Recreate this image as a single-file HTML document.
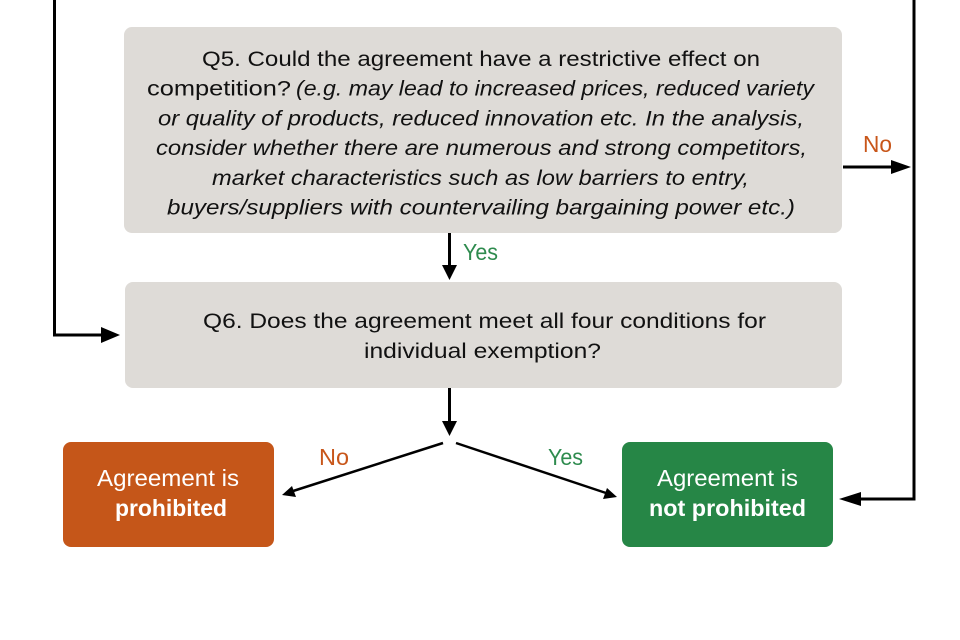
<!DOCTYPE html>
<html><head><meta charset="utf-8"><style>
html,body{margin:0;padding:0;background:#fff;}
svg{display:block;}
text{font-family:"Liberation Sans",sans-serif;}
</style></head><body>
<svg width="960" height="640" viewBox="0 0 960 640" xmlns="http://www.w3.org/2000/svg">
<rect width="960" height="640" fill="#fff"/>
<!-- boxes -->
<rect x="124" y="27" width="718" height="206" rx="8" fill="#dedbd7"/>
<rect x="125" y="282" width="717" height="106" rx="8" fill="#dedbd7"/>
<rect x="63" y="442" width="211" height="105" rx="8" fill="#c55619"/>
<rect x="622" y="442" width="211" height="105" rx="8" fill="#268646"/>

<!-- connectors -->
<g stroke="#000" stroke-width="3" fill="none">
<polyline points="54.5,0 54.5,335 103,335"/>
<polyline points="914,0 914,499 859,499"/>
<line x1="843" y1="167" x2="893" y2="167"/>
<line x1="449.5" y1="233" x2="449.5" y2="266"/>
<line x1="449.5" y1="388" x2="449.5" y2="422"/>
</g>
<g stroke="#000" stroke-width="2.5" fill="none">
<line x1="443" y1="443" x2="290" y2="492"/>
<line x1="456" y1="443" x2="609" y2="494"/>
</g>
<g fill="#000">
<polygon points="120,335 101,327 101,343"/>
<polygon points="839,499 861,492 861,506"/>
<polygon points="911,167 891,160 891,174"/>
<polygon points="449.5,280 442,265 457,265"/>
<polygon points="449.5,436 442,421 457,421"/>
<polygon points="282,495 292,486 296,497"/>
<polygon points="617,497 603,499 607,488"/>
</g>

<!-- Q5 text -->
<g font-size="21.5" fill="#111">
<text x="202" y="66" textLength="558" lengthAdjust="spacingAndGlyphs">Q5. Could the agreement have a restrictive effect on</text>
<text x="147" y="95.7" textLength="144" lengthAdjust="spacingAndGlyphs">competition?</text>
<text x="296" y="95.7" textLength="518" lengthAdjust="spacingAndGlyphs" font-style="italic">(e.g. may lead to increased prices, reduced variety</text>
<text x="158" y="125.4" textLength="646" lengthAdjust="spacingAndGlyphs" font-style="italic">or quality of products, reduced innovation etc. In the analysis,</text>
<text x="156" y="155.1" textLength="651" lengthAdjust="spacingAndGlyphs" font-style="italic">consider whether there are numerous and strong competitors,</text>
<text x="212" y="184.8" textLength="537" lengthAdjust="spacingAndGlyphs" font-style="italic">market characteristics such as low barriers to entry,</text>
<text x="167" y="214.5" textLength="628" lengthAdjust="spacingAndGlyphs" font-style="italic">buyers/suppliers with countervailing bargaining power etc.)</text>
</g>
<!-- Q6 text -->
<g font-size="21.5" fill="#111">
<text x="203" y="328" textLength="563" lengthAdjust="spacingAndGlyphs">Q6. Does the agreement meet all four conditions for</text>
<text x="364" y="358" textLength="237" lengthAdjust="spacingAndGlyphs">individual exemption?</text>
</g>
<!-- result texts -->
<g font-size="23" fill="#fff">
<text x="97" y="486" textLength="142" lengthAdjust="spacingAndGlyphs">Agreement is</text>
<text x="115" y="516" textLength="112" lengthAdjust="spacingAndGlyphs" font-weight="bold">prohibited</text>
<text x="657" y="486" textLength="141" lengthAdjust="spacingAndGlyphs">Agreement is</text>
<text x="649" y="516" textLength="157" lengthAdjust="spacingAndGlyphs" font-weight="bold">not prohibited</text>
</g>
<!-- labels -->
<g font-size="23">
<text x="863" y="152" textLength="29" lengthAdjust="spacingAndGlyphs" fill="#c8561a">No</text>
<text x="463" y="260" textLength="35" lengthAdjust="spacingAndGlyphs" fill="#2e8b4e">Yes</text>
<text x="319" y="465" textLength="30" lengthAdjust="spacingAndGlyphs" fill="#c8561a">No</text>
<text x="548" y="465" textLength="35" lengthAdjust="spacingAndGlyphs" fill="#2e8b4e">Yes</text>
</g>
</svg>
</body></html>
